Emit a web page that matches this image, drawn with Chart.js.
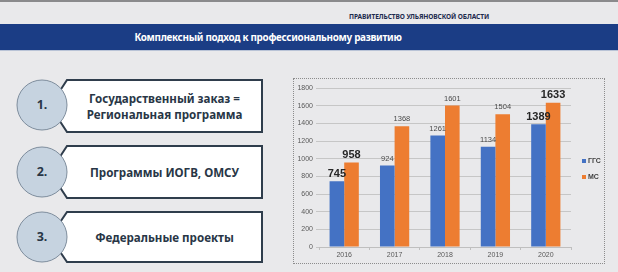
<!DOCTYPE html>
<html lang="ru">
<head>
<meta charset="utf-8">
<title>Комплексный подход к профессиональному развитию</title>
<script src="https://cdn.jsdelivr.net/npm/chart.js@4.4.1/dist/chart.umd.min.js"></script>
<style>
    html, body {
        margin: 0;
        padding: 0;
    }
    body {
        width: 618px;
        height: 272px;
        background: #e9e9eb;
        position: relative;
        overflow: hidden;
        font-family: "Noto Sans", "Open Sans", sans-serif;
    }
    .topLine {
        position: absolute;
        left: 0; top: 0;
        width: 618px; height: 2px;
        background: #8a8a8c;
    }
    .govName {
        position: absolute;
        left: 349px; top: 12px;
        width: 132px;
        font-size: 6.6px;
        font-weight: bold;
        color: #1d2a4e;
        white-space: nowrap;
        letter-spacing: -0.1px;
    }
    .titleBand {
        position: absolute;
        left: 0; top: 24px;
        width: 618px; height: 26px;
        background: #1b3d85;
        border-bottom: 1px solid #b9c3d6;
    }
    .titleBand span {
        position: absolute;
        left: 268px; top: 0;
        transform: translateX(-50%);
        white-space: nowrap;
        color: #fff;
        font-size: 9.9px;
        font-weight: bold;
        letter-spacing: -0.3px;
        line-height: 26px;
    }
    .item {
        position: absolute;
        left: 67px;
        width: 195px;
        display: flex;
        align-items: center;
        justify-content: center;
        text-align: center;
        font-size: 11.6px;
        font-weight: bold;
        line-height: 16px;
        color: #283646;
    }
    .num {
        position: absolute;
        left: 17px;
        width: 50px;
        text-align: center;
        font-size: 12.5px;
        font-weight: bold;
        color: #283646;
    }
    .chartBox {
        position: absolute;
        left: 293px; top: 78px;
        width: 310px; height: 184px;
        border: 1px dotted #8c8c8c;
    }
    .chartBox canvas {
        position: absolute;
        left: 0; top: 0;
    }
</style>
</head>
<body>
<div class="topLine"></div>
<div class="govName">ПРАВИТЕЛЬСТВО УЛЬЯНОВСКОЙ ОБЛАСТИ</div>
<div class="titleBand"><span>Комплексный подход к профессиональному развитию</span></div>

<svg width="290" height="272" style="position:absolute;left:0;top:0">
    <g fill="#ffffff" stroke="#2f3d4c" stroke-width="2">
        <polygon points="67,80 262,80 262,132 67,132 50,106"/>
        <polygon points="67,146 262,146 262,198 67,198 50,172"/>
        <polygon points="67,212 262,212 262,262 67,262 50,237"/>
    </g>
    <g fill="#c6d3e0" stroke="#7e8d9d" stroke-width="1">
        <circle cx="42" cy="105" r="25"/>
        <circle cx="42" cy="172" r="25"/>
        <circle cx="42" cy="237" r="25"/>
    </g>
</svg>
<div class="num" style="top:96px">1.</div>
<div class="num" style="top:163px">2.</div>
<div class="num" style="top:228px">3.</div>
<div class="item" style="top:81px;height:51px">Государственный заказ =<br>Региональная программа</div>
<div class="item" style="top:147px;height:51px">Программы ИОГВ, ОМСУ</div>
<div class="item" style="top:213px;height:49px">Федеральные проекты</div>

<div class="chartBox">
    <canvas id="staffChart" width="310" height="184"></canvas>
</div>

<script>
    // values
    const years = ['2016', '2017', '2018', '2019', '2020'];
    const ggsValues = [745, 924, 1261, 1134, 1389];
    const msValues = [958, 1368, 1601, 1504, 1633];
    const seriesNames = ['ГГС', 'МС'];
    const yTicks = [0, 200, 400, 600, 800, 1000, 1200, 1400, 1600, 1800];

    // first and last year have the big bold labels on the slide
    const bigLabelYears = ['2016', '2020'];

    const blue = '#4472c4';
    const orange = '#ed7d31';
    const tickFont = {family: 'Liberation Sans, Arial, sans-serif', size: 7};

    const valueLabels = {
        id: 'valueLabels',
        afterDatasetsDraw(chart) {
            let ctx = chart.ctx;
            ctx.save();
            ctx.textAlign = 'center';
            ctx.textBaseline = 'bottom';
            chart.data.datasets.forEach((ds, i) => {
                chart.getDatasetMeta(i).data.forEach((bar, j) => {
                    let big = bigLabelYears.includes(chart.data.labels[j]);
                    ctx.font = big ? 'bold 11px "Liberation Sans", Arial, sans-serif'
                                   : '7.5px "Liberation Sans", Arial, sans-serif';
                    ctx.fillStyle = big ? '#262626' : '#4a4a4a';
                    ctx.fillText(ds.data[j], bar.x, bar.y - (big ? 2 : 3));
                });
            });
            ctx.restore();
        }
    };

    // small legend to the right of the plot
    const sideLegend = {
        id: 'sideLegend',
        afterDraw(chart) {
            let ctx = chart.ctx;
            ctx.save();
            ctx.textBaseline = 'middle';
            ctx.font = 'bold 7px "Liberation Sans", Arial, sans-serif';
            chart.data.datasets.forEach((ds, i) => {
                let y = 82 + i * 16;
                ctx.fillStyle = ds.backgroundColor;
                ctx.fillRect(288, y - 2, 4, 4);
                ctx.fillStyle = '#404040';
                ctx.fillText(ds.label, 294, y);
            });
            ctx.restore();
        }
    };

    new Chart(document.getElementById('staffChart'), {
        type: 'bar',
        data: {
            labels: years,
            datasets: [
                {label: seriesNames[0], data: ggsValues, backgroundColor: blue},
                {label: seriesNames[1], data: msValues, backgroundColor: orange}
            ]
        },
        options: {
            responsive: false,
            animation: false,
            layout: {
                padding: {left: 0, right: 33, top: 9, bottom: 0}
            },
            datasets: {
                bar: {categoryPercentage: 0.58, barPercentage: 1}
            },
            scales: {
                x: {
                    grid: {
                        offset: true,
                        drawOnChartArea: false,
                        color: '#bfbfbf',
                        tickLength: 3
                    },
                    border: {color: '#bfbfbf'},
                    ticks: {font: tickFont, color: '#595959', padding: 1},
                    afterFit: scale => { scale.height = 16; }
                },
                y: {
                    min: 0,
                    max: 1800,
                    afterBuildTicks: scale => { scale.ticks = yTicks.map(v => ({value: v})); },
                    grid: {color: '#c6c6c6', tickLength: 3},
                    border: {display: false},
                    ticks: {font: tickFont, color: '#595959', padding: 3, callback: v => String(v)},
                    afterFit: scale => { scale.width = 25; }
                }
            },
            plugins: {
                legend: {display: false},
                tooltip: {enabled: false}
            }
        },
        plugins: [valueLabels, sideLegend]
    });
</script>
</body>
</html>
